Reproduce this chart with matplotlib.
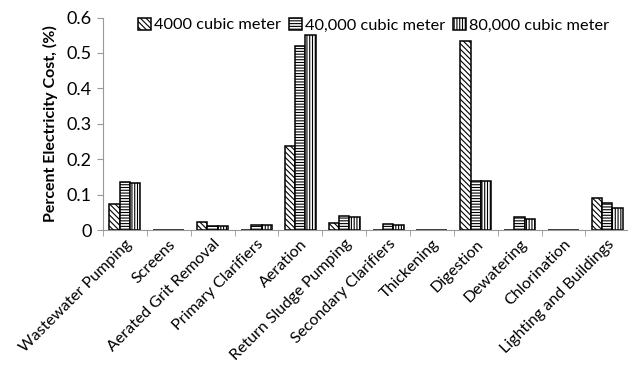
import matplotlib
matplotlib.use("Agg")
import matplotlib.pyplot as plt
import numpy as np

plt.rcParams['font.family'] = ['Lato', 'DejaVu Sans']
plt.rcParams['hatch.color'] = '#222222'
plt.rcParams['hatch.linewidth'] = 0.8

categories = ["Wastewater Pumping", "Screens", "Aerated Grit Removal", "Primary Clarifiers",
              "Aeration", "Return Sludge Pumping", "Secondary Clarifiers", "Thickening",
              "Digestion", "Dewatering", "Chlorination", "Lighting and Buildings"]
series_names = ["4000 cubic meter", "40,000 cubic meter", "80,000 cubic meter"]
v4000 = [0.075, 0.001, 0.022, 0.001, 0.237, 0.020, 0.001, 0.001, 0.535, 0.0, 0.001, 0.091]
v40000 = [0.137, 0.001, 0.012, 0.015, 0.521, 0.040, 0.016, 0.001, 0.139, 0.037, 0.001, 0.077]
v80000 = [0.132, 0.001, 0.012, 0.015, 0.551, 0.038, 0.015, 0.001, 0.140, 0.031, 0.001, 0.063]
yticks = [0, 0.1, 0.2, 0.3, 0.4, 0.5, 0.6]
ytick_labels = ["0", "0.1", "0.2", "0.3", "0.4", "0.5", "0.6"]

fig = plt.figure(figsize=(6.28, 3.73), dpi=100)
ax = fig.add_axes([0.164, 0.383, 0.838, 0.570])

x = np.arange(len(categories))
w = 0.235
hatches = ['\\\\\\\\\\\\', '------', '||||||']
for i, (vals, name) in enumerate(zip([v4000, v40000, v80000], series_names)):
    ax.bar(x + (i - 1) * w, vals, width=w, color='white', edgecolor='black',
           linewidth=1.1, hatch=hatches[i], label=name)

ax.set_xlim(-0.5, len(categories) - 0.5)
ax.set_ylim(0, 0.6)
ax.set_yticks(yticks)
ax.set_yticklabels(ytick_labels, fontsize=13)
ax.set_xticks(x)
ax.set_xticklabels(categories, rotation=45, ha='right', rotation_mode='anchor', fontsize=11.5)
ax.tick_params(axis='x', length=0, pad=5)
ax.set_xticks(np.arange(-0.5, len(categories), 1), minor=True)
ax.tick_params(axis='x', which='minor', length=4, color='#999999')
ax.tick_params(axis='y', length=4, color='#999999', pad=4)
for s in ['top', 'right']:
    ax.spines[s].set_visible(False)
for s in ['left', 'bottom']:
    ax.spines[s].set_color('#999999')
ax.set_ylabel("Percent Electricity Cost, (%)", fontsize=11.5, fontweight='bold', labelpad=6)

ax.legend(loc='upper left', bbox_to_anchor=(0.055, 1.03), ncol=3, frameon=False,
          fontsize=11.8, handlelength=0.75, handleheight=0.75, handletextpad=0.2,
          columnspacing=0.5, borderaxespad=0)

fig.savefig("out.png", dpi=100)
